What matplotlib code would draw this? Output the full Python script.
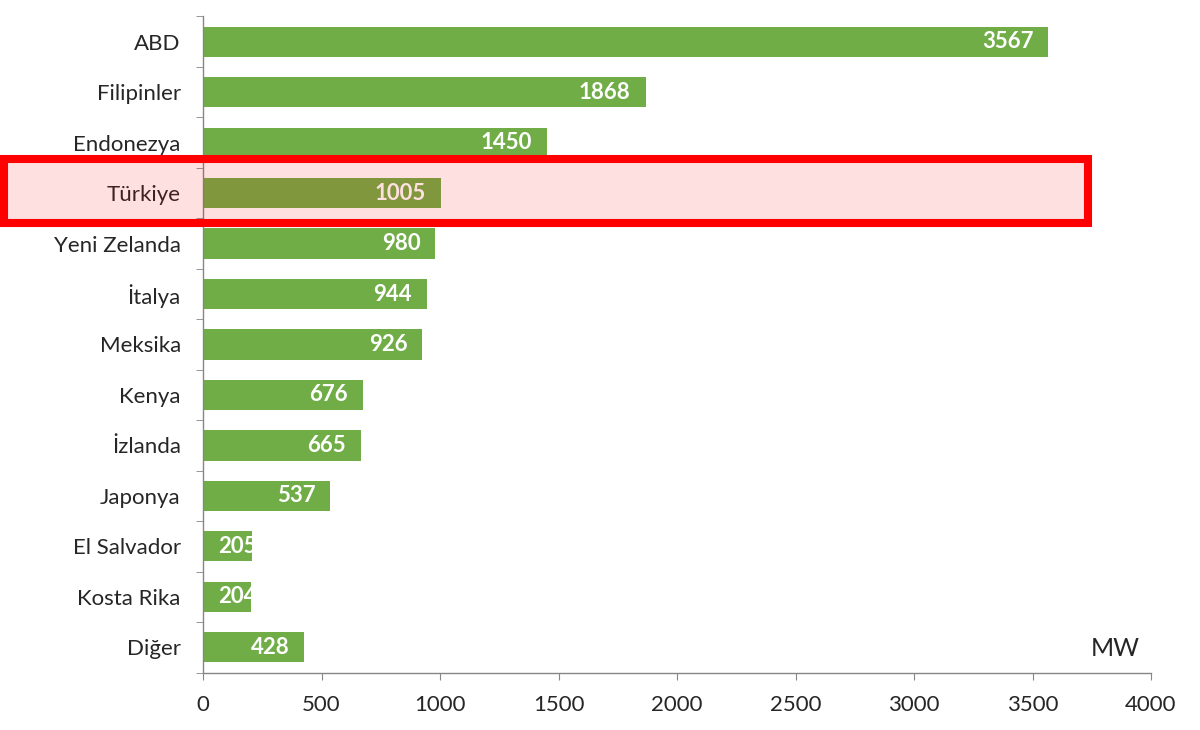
import matplotlib
matplotlib.use("Agg")
import matplotlib.pyplot as plt
from matplotlib.patches import Rectangle
import numpy as np

plt.rcParams['font.family'] = ['Lato', 'DejaVu Sans']

countries = ["ABD", "Filipinler", "Endonezya", "Türkiye", "Yeni Zelanda", "İtalya",
             "Meksika", "Kenya", "İzlanda", "Japonya", "El Salvador", "Kosta Rika", "Diğer"]
values = [3567, 1868, 1450, 1005, 980, 944, 926, 676, 665, 537, 205, 204, 428]
xticks = [0, 500, 1000, 1500, 2000, 2500, 3000, 3500, 4000]

W, H = 1200, 730
fig = plt.figure(figsize=(W / 100, H / 100), dpi=100)
ax = fig.add_axes([203 / W, 1 - 672.5 / H, (1151 - 203) / W, (672.5 - 16.5) / H])

green = "#70AD47"
axcol = "#868686"
y = np.arange(len(countries))
bars = ax.barh(y, values, height=0.6, color=green, zorder=2)
ax.set_ylim(len(countries) - 0.5, -0.5)
ax.set_xlim(0, 4000)
ax.set_xticks(xticks)
ax.set_xticklabels([str(t) for t in xticks])
ax.set_yticks(y)
ax.set_yticklabels(countries)
ax.set_yticks(np.arange(-0.5, len(countries), 1), minor=True)

for s in ["top", "right"]:
    ax.spines[s].set_visible(False)
for s in ["left", "bottom"]:
    ax.spines[s].set_color(axcol)
    ax.spines[s].set_linewidth(1.0)

ax.tick_params(axis='y', which='major', length=0, pad=16, labelsize=16, labelcolor="#262626")
ax.tick_params(axis='y', which='minor', length=5, color=axcol, direction='out')
ax.tick_params(axis='x', which='major', length=5, color=axcol, direction='out', pad=11,
               labelsize=16, labelcolor="#262626")

# value labels (white, bold) near bar end, clamped to bar start
fig.canvas.draw()
renderer = fig.canvas.get_renderer()
pad_px = 15
for yi, v in zip(y, values):
    t = ax.text(v, yi, str(v), ha='right', va='center', color='white',
                fontsize=16, fontweight='bold', zorder=3)
    bb = t.get_window_extent(renderer)
    x_end = ax.transData.transform((v, yi))[0]
    x0 = ax.transData.transform((0, yi))[0]
    wpx = bb.width
    right = x_end - pad_px
    if right - wpx < x0 + pad_px:
        right = x0 + pad_px + wpx
    xr = ax.transData.inverted().transform((right, 0))[0]
    t.set_x(xr)
    t.set_clip_on(False)

ax.text(1115 / W, 1 - 648 / H, "MW", transform=fig.transFigure, ha='center', va='center',
        fontsize=18, color="#262626")

# highlight box around Türkiye
rect = Rectangle((4 / W, 1 - 223 / H), (1088 - 4) / W, (223 - 159) / H,
                 transform=fig.transFigure, facecolor=(1, 0, 0, 0.12),
                 edgecolor=(1, 0, 0, 1), linewidth=5.8, zorder=10)
fig.patches.append(rect)

fig.savefig("out.png", dpi=100)
